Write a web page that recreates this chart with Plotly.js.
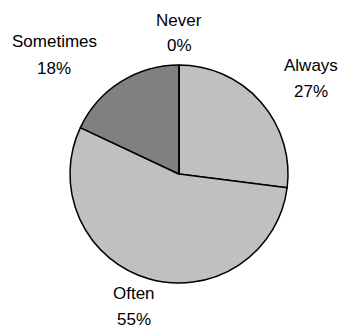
<!DOCTYPE html>
<html>
<head>
<meta charset="utf-8">
<script src="https://cdn.plot.ly/plotly-3.0.1.min.js"></script>
<style>html,body{margin:0;padding:0;background:#fff;}#chart{width:350px;height:329px;}</style>
</head>
<body>
<div id="chart"></div>
<script>
var categories = ["Always", "Often", "Sometimes", "Never"];
var percents = [27, 55, 18, 0];
var sliceColors = ["#c0c0c0", "#c0c0c0", "#808080", "#ffffff"];
// label anchor positions in pixels (centre of the name line); percent line sits below
var labelX = [311, 134, 54, 179];
var labelY = [65, 293, 42, 20];
var lineGap = 26;

var W = 350, H = 329;
var font = {family: "Liberation Sans, Arial, sans-serif", size: 17, color: "#000"};
var annotations = [];
categories.forEach(function (c, i) {
  annotations.push({
    text: c, x: labelX[i] / W, y: 1 - labelY[i] / H,
    xref: "paper", yref: "paper", xanchor: "center", yanchor: "middle",
    showarrow: false, font: font, borderpad: 0
  });
  annotations.push({
    text: percents[i] + "%", x: labelX[i] / W, y: 1 - (labelY[i] + lineGap) / H,
    xref: "paper", yref: "paper", xanchor: "center", yanchor: "middle",
    showarrow: false, font: font, borderpad: 0
  });
});

var cx = 179, cy = 174, r = 109;
var data = [{
  type: "pie",
  labels: categories,
  values: percents,
  sort: false,
  direction: "clockwise",
  rotation: 0,
  textinfo: "none",
  hoverinfo: "label+percent",
  marker: {colors: sliceColors, line: {color: "#000", width: 1.5}},
  domain: {x: [(cx - r) / W, (cx + r) / W], y: [1 - (cy + r) / H, 1 - (cy - r) / H]},
  showlegend: false
}];

var layout = {
  width: W, height: H,
  margin: {l: 0, r: 0, t: 0, b: 0},
  paper_bgcolor: "#fff",
  showlegend: false,
  annotations: annotations
};

Plotly.newPlot("chart", data, layout, {displayModeBar: false, staticPlot: true});
</script>
</body>
</html>
